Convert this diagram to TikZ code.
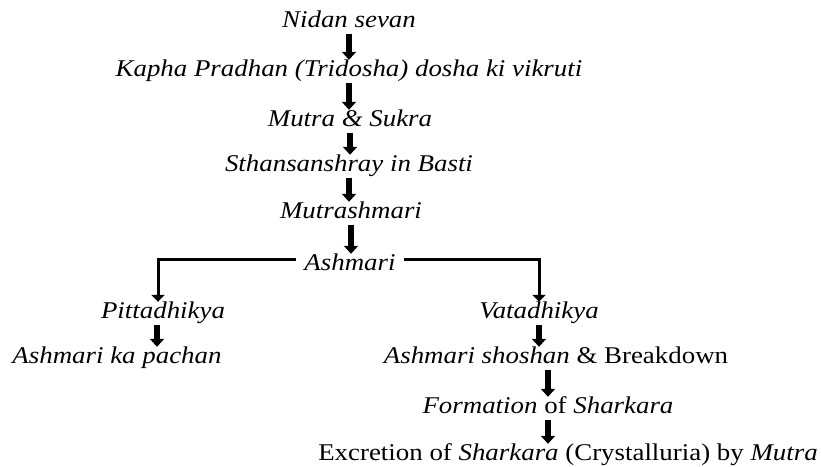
\documentclass[tikz,border=0pt]{standalone}
\usepackage{fontspec}
\setmainfont[FakeStretch=1.12]{Liberation Serif}
\usetikzlibrary{arrows.meta,positioning}
\tikzset{
    stage/.style={
    anchor=base,inner sep=2pt,text height=14pt,text depth=5pt,
    font=\fontsize{24}{28}\selectfont\itshape
    },
    flow/.style={
    line width=5.5pt,-{Triangle[length=8pt,width=14pt]}
    },
    branch/.style={
    line width=3pt,-{Triangle[length=7pt,width=13pt]}
    },
}
\begin{document}
\begin{tikzpicture}[x=1pt,y=-1pt]
   \useasboundingbox (0,0) rectangle (821,466);

   %main chain
   \node[stage] (nidan) at (349,27) {Nidan sevan};
   \node[stage] (kapha) at (349,76) {Kapha Pradhan (Tridosha) dosha ki vikruti};
   \node[stage] (mutra) at (350,126) {Mutra \& Sukra};
   \node[stage] (sthan) at (349,171) {Sthansanshray in Basti};
   \node[stage] (mutrashmari) at (351,218) {Mutrashmari};
   \node[stage,inner xsep=8pt] (ashmari) at (350,270) {Ashmari};

   %pitta side
   \node[stage] (pitta) at (163,318) {Pittadhikya};
   \node[stage] (pachan) at (117,363) {Ashmari ka pachan};

   %vata side
   \node[stage] (vata) at (539,318) {Vatadhikya};
   \node[stage] (shoshan) at (556,363) {Ashmari shoshan \textup{\& Breakdown}};
   \node[stage] (formation) at (548,413) {Formation \textup{of} Sharkara};
   \node[stage] (excretion) at (568,460) {\textup{Excretion of} Sharkara \textup{(Crystalluria) by} Mutra};

   \path[flow]
    (nidan.south) edge (nidan.south |- kapha.north)
    (kapha.south) edge (kapha.south |- mutra.north)
    (mutra.south) edge (mutra.south |- sthan.north)
    (sthan.south) edge (sthan.south |- mutrashmari.north)
    (mutrashmari.south) edge (mutrashmari.south |- ashmari.north);

   %branches
   \draw[branch] ([yshift=6pt]ashmari.west) -| ([xshift=-5pt]pitta.north);
   \draw[branch] ([yshift=6pt]ashmari.east) -| (vata.north);

   \draw[flow] ([xshift=-6pt]pitta.south) -- ([xshift=-6pt]pitta.south |- pachan.north);
   \draw[flow] (vata.south) -- (vata.south |- shoshan.north);
   \draw[flow] (formation.north |- shoshan.south) -- (formation.north);
   \draw[flow] (formation.south) -- (formation.south |- excretion.north);
\end{tikzpicture}
\end{document}
